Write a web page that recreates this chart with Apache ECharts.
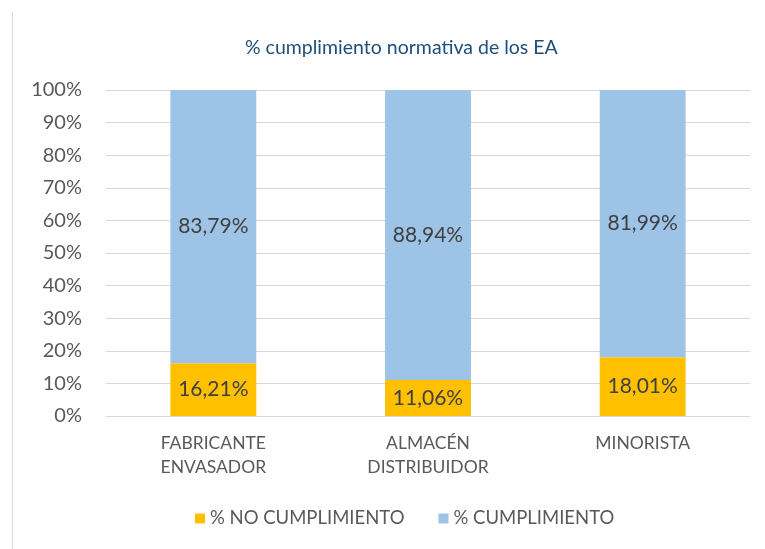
<!DOCTYPE html>
<html><head><meta charset="utf-8">
<script src="https://cdn.jsdelivr.net/npm/echarts@6/dist/echarts.min.js"></script>
<style>html,body{margin:0;padding:0;background:#fff}#c{width:765px;height:549px}</style>
</head><body><div id="c"></div>
<script>
const categories = ['FABRICANTE\nENVASADOR', 'ALMACÉN\nDISTRIBUIDOR', 'MINORISTA'];
const noCumplimiento = [16.21, 11.06, 18.01];
const cumplimiento = [83.79, 88.94, 81.99];
const seriesNames = ['% NO CUMPLIMIENTO', '% CUMPLIMIENTO'];
const titleText = '% cumplimiento normativa de los EA';

const FONT = 'Lato, "Noto Sans", sans-serif';
const chart = echarts.init(document.getElementById('c'), null, {renderer: 'canvas'});
const lbl = {
  show: true, position: 'inside', color: '#404040', fontSize: 21, fontFamily: FONT,
  formatter: p => p.value.toFixed(2).replace('.', ',') + '%'
};
chart.setOption({
  animation: false,
  title: {
    text: titleText, left: 240, top: 33,
    textStyle: {color: '#1F4E79', fontSize: 19.5, fontWeight: 'normal', fontFamily: FONT}
  },
  graphic: [{
    type: 'line', shape: {x1: 12.5, y1: 12, x2: 12.5, y2: 549},
    style: {stroke: '#d9d9d9', lineWidth: 1}
  }],
  grid: {left: 106, right: 15, top: 90, bottom: 133, containLabel: false},
  legend: {
    bottom: 16, left: 190, itemWidth: 10, itemHeight: 10, itemGap: 34,
    icon: 'rect',
    textStyle: {color: '#595959', fontSize: 18.5, fontFamily: FONT}
  },
  xAxis: {
    type: 'category', data: categories,
    axisLine: {show: false}, axisTick: {show: false},
    axisLabel: {color: '#595959', fontSize: 17.5, fontFamily: FONT, lineHeight: 24, margin: 15}
  },
  yAxis: {
    type: 'value', min: 0, max: 100, interval: 10,
    axisLabel: {formatter: '{value}%', color: '#595959', fontSize: 20, fontFamily: FONT, margin: 24},
    splitLine: {lineStyle: {color: '#d9d9d9', width: 1}},
    axisLine: {show: false}, axisTick: {show: false}
  },
  series: [
    {name: seriesNames[0], type: 'bar', stack: 'a', data: noCumplimiento, barWidth: '40%',
     itemStyle: {color: '#FFC000'}, label: lbl},
    {name: seriesNames[1], type: 'bar', stack: 'a', data: cumplimiento, barWidth: '40%',
     itemStyle: {color: '#9DC3E6'}, label: lbl}
  ]
});
</script></body></html>
